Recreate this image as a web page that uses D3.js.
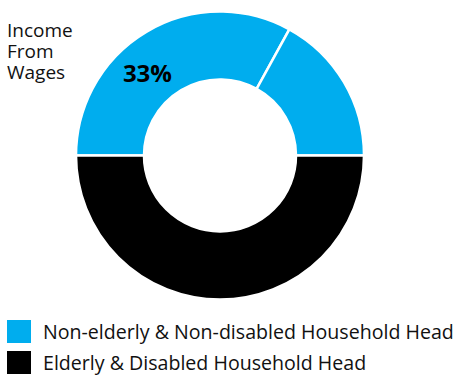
<!DOCTYPE html>
<html><head><meta charset="utf-8">
<script src="https://cdn.jsdelivr.net/npm/d3@7"></script>
<style>body{margin:0;background:#fff;} svg{display:block;}</style>
</head><body>
<svg id="chart" width="459" height="375"></svg>
<script>
const sliceNames = ["Wages (Non-elderly)", "Other (Non-elderly)", "Elderly & Disabled"];
const sliceValues = [33, 17, 50];
const sliceGroups = ["Non-elderly & Non-disabled Household Head", "Non-elderly & Non-disabled Household Head", "Elderly & Disabled Household Head"];
const legendLabels = ["Non-elderly & Non-disabled Household Head", "Elderly & Disabled Household Head"];
const legendColors = ["#00ADEE", "#000000"];
const calloutLines = ["Income", "From", "Wages"];
const pctLabel = "33%";

const svg = d3.select("#chart");
const font = "'Open Sans', sans-serif";
const cx = 220, cy = 155.5, rOuter = 144, rInner = 76;

const color = d3.scaleOrdinal().domain(legendLabels).range(legendColors);
const pie = d3.pie().sort(null).value(d => d).startAngle(-Math.PI/2).endAngle(3*Math.PI/2);
const arcs = pie(sliceValues);
const arc = d3.arc().innerRadius(rInner).outerRadius(rOuter);

const g = svg.append("g").attr("transform", `translate(${cx},${cy})`);
g.selectAll("path").data(arcs).join("path")
  .attr("d", arc)
  .attr("fill", (d,i) => color(sliceGroups[i]))
  .attr("stroke", "#fff").attr("stroke-width", 2.5);

// percentage label in the first slice
const a0 = arcs[0];
const labAngle = a0.startAngle + (a0.endAngle - a0.startAngle) * 0.41;
const [lx, ly] = d3.pointRadial(labAngle, (rInner + rOuter) / 2);
g.append("text").attr("x", lx).attr("y", ly).attr("dy", "0.36em")
  .attr("text-anchor", "middle").attr("font-family", font).attr("font-weight", "bold")
  .attr("font-size", 24).attr("fill", "#000").text(pctLabel);

// callout text (one text block, three lines)
const callout = svg.append("text")
  .attr("x", 7).attr("y", 37)
  .attr("font-family", font).attr("font-size", 19).attr("fill", "#111");
callout.selectAll("tspan").data(calloutLines).join("tspan")
  .attr("x", 7).attr("dy", (d,i) => i === 0 ? 0 : 21)
  .text(d => d);

// legend
const lg = svg.append("g");
const items = lg.selectAll("g").data(legendLabels).join("g")
  .attr("transform", (d,i) => `translate(7,${320 + i * 31})`);
items.append("rect").attr("width", 24).attr("height", 23).attr("fill", d => color(d));
items.append("text").attr("x", 36).attr("y", 19)
  .attr("font-family", font).attr("font-size", 19.6).attr("fill", "#111")
  .text(d => d);
</script>
</body></html>
